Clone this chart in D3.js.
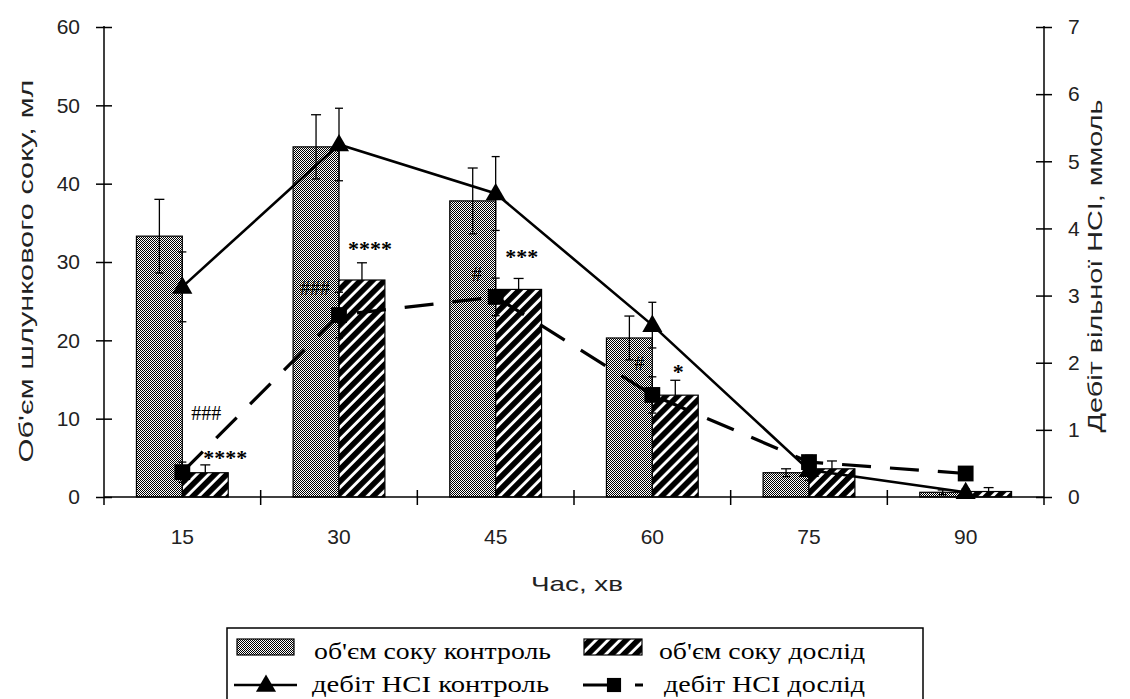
<!DOCTYPE html>
<html>
<head>
<meta charset="utf-8">
<script src="https://cdn.jsdelivr.net/npm/d3@7"></script>
<style>
  html, body { margin: 0; padding: 0; background: #fff; }
  svg { display: block; }
</style>
</head>
<body>
<div id="chart"></div>
<script>
// ---------- data ----------
const categories = ["15", "30", "45", "60", "75", "90"];
const volControl = [33.3, 44.7, 37.8, 20.3, 3.1, 0.6];
const volControlErr = [4.7, 4.1, 4.2, 2.8, 0.5, 0.3];
const volExp = [3.1, 27.7, 26.5, 13.0, 3.6, 0.7];
const volExpErr = [1.0, 2.2, 1.4, 1.9, 1.0, 0.5];
const hclControl = [3.13, 5.25, 4.52, 2.56, 0.40, 0.07];
const hclControlErr = [0.52, 0.54, 0.55, 0.34, 0.15, 0.05];
const hclExp = [0.37, 2.71, 2.98, 1.52, 0.52, 0.35];
const hclExpErr = [0.15, 0.34, 0.28, 0.27, 0.10, 0.10];
const leftTicks = [0, 10, 20, 30, 40, 50, 60];
const rightTicks = [0, 1, 2, 3, 4, 5, 6, 7];
const markLabels = ["###", "****", "****", "###", "***", "#", "#", "*"];
const markCats = ["15", "15", "30", "30", "45", "45", "60", "60"];
const markValues = [10.7, 5.6, 32.3, 26.7, 31.3, 28.5, 17.1, 16.6];
const legendLabels = ["об'єм соку контроль", "об'єм соку дослід", "дебіт НСІ контроль", "дебіт НСІ дослід"];
const xTitle = "Час, хв";
const yLeftTitle = "Об'єм шлункового соку, мл";
const yRightTitle = "Дебіт вільної НСІ, ммоль";

// ---------- layout ----------
const W = 1130, H = 699;
const L = 104, R = 1044, T = 27, B = 497;
const markDx = [24, 43, 31, -24, 26, -19, -13, 26];

const svg = d3.select("#chart").append("svg").attr("width", W).attr("height", H);
svg.append("rect").attr("width", W).attr("height", H).attr("fill", "#fff");

const defs = svg.append("defs");
// control bar pattern: dense diamond lattice
const pc = defs.append("pattern").attr("id", "pCtrl").attr("patternUnits", "userSpaceOnUse")
  .attr("width", 4).attr("height", 4);
pc.append("rect").attr("width", 4).attr("height", 4).attr("fill", "#fff");
[[0,0],[1,1],[2,2],[3,3],[1,3],[3,1],[0,2],[2,0]].forEach(([px, py]) =>
  pc.append("rect").attr("x", px).attr("y", py).attr("width", 1).attr("height", 1).attr("fill", "#000"));
// experimental bar pattern: heavy diagonal hatch
const ph = defs.append("pattern").attr("id", "pExp").attr("patternUnits", "userSpaceOnUse")
  .attr("width", 8.5).attr("height", 8.5).attr("patternTransform", "rotate(45)");
ph.append("rect").attr("width", 8.5).attr("height", 8.5).attr("fill", "#fff");
ph.append("rect").attr("width", 5.6).attr("height", 8.5).attr("fill", "#000");

const x = d3.scaleBand().domain(categories).range([L, R]).padding(0);
const yL = d3.scaleLinear().domain([0, 60]).range([B, T]);
const yR = d3.scaleLinear().domain([0, 7]).range([B, T]);
const bw = x.bandwidth() * 0.293;
const cx = c => x(c) + x.bandwidth() / 2;

const font = "'Liberation Sans', Arial, sans-serif";
const serif = "'Liberation Serif', 'Times New Roman', serif";

// ---------- bars ----------
const gBars = svg.append("g");
gBars.selectAll("rect.c").data(categories).join("rect").attr("class", "c")
  .attr("x", c => cx(c) - bw).attr("width", bw)
  .attr("y", (c, i) => yL(volControl[i])).attr("height", (c, i) => B - yL(volControl[i]))
  .attr("fill", "url(#pCtrl)").attr("stroke", "#000").attr("stroke-width", 1.2);
gBars.selectAll("rect.e").data(categories).join("rect").attr("class", "e")
  .attr("x", c => cx(c)).attr("width", bw)
  .attr("y", (c, i) => yL(volExp[i])).attr("height", (c, i) => B - yL(volExp[i]))
  .attr("fill", "url(#pExp)").attr("stroke", "#000").attr("stroke-width", 1.2);

// bar error bars
const gErr = svg.append("g").attr("stroke", "#000").attr("stroke-width", 1.3);
categories.forEach((c, i) => {
  const xc = cx(c) - bw / 2;
  const y1 = yL(volControl[i] + volControlErr[i]), y2 = yL(volControl[i] - volControlErr[i]);
  gErr.append("line").attr("x1", xc).attr("x2", xc).attr("y1", y1).attr("y2", y2);
  gErr.append("line").attr("x1", xc - 5).attr("x2", xc + 5).attr("y1", y1).attr("y2", y1);
  gErr.append("line").attr("x1", xc - 4).attr("x2", xc + 4).attr("y1", y2).attr("y2", y2);
  const xe = cx(c) + bw / 2;
  const ye = yL(volExp[i] + volExpErr[i]);
  gErr.append("line").attr("x1", xe).attr("x2", xe).attr("y1", ye).attr("y2", yL(volExp[i]));
  gErr.append("line").attr("x1", xe - 5).attr("x2", xe + 5).attr("y1", ye).attr("y2", ye);
});

// ---------- axes ----------
const axL = d3.axisLeft(yL).tickValues(leftTicks).tickFormat(d3.format("d")).tickSize(8).tickPadding(16);
const gL = svg.append("g").attr("transform", `translate(${L},0)`).call(axL);
const axR = d3.axisRight(yR).tickValues(rightTicks).tickFormat(d3.format("d")).tickSize(8).tickPadding(16);
const gR = svg.append("g").attr("transform", `translate(${R},0)`).call(axR);
[gL, gR].forEach(g => {
  g.select(".domain").remove();
  g.selectAll(".tick line").attr("x1", -8).attr("x2", 8).attr("stroke-width", 1.5);
  g.selectAll("text").attr("font-family", font).attr("font-size", 21).attr("fill", "#222");
});
svg.append("line").attr("x1", L).attr("x2", L).attr("y1", yL(60) - 1).attr("y2", B + 8)
  .attr("stroke", "#000").attr("stroke-width", 1.5);
svg.append("line").attr("x1", R).attr("x2", R).attr("y1", yR(7) - 1).attr("y2", B + 8)
  .attr("stroke", "#000").attr("stroke-width", 1.5);

const axB = d3.axisBottom(x).tickSize(0).tickPadding(32);
const gB = svg.append("g").attr("transform", `translate(0,${B})`).call(axB);
gB.select(".domain").remove();
gB.selectAll("text").attr("font-family", font).attr("font-size", 21).attr("fill", "#222");
svg.append("line").attr("x1", L).attr("x2", R).attr("y1", B).attr("y2", B)
  .attr("stroke", "#000").attr("stroke-width", 1.5);
svg.append("g").selectAll("line").data(categories.slice(1)).join("line")
  .attr("x1", c => x(c)).attr("x2", c => x(c)).attr("y1", B - 7).attr("y2", B + 8)
  .attr("stroke", "#000").attr("stroke-width", 1.5);

// ---------- lines ----------
const lineC = d3.line().x(c => cx(c)).y((c, i) => yR(hclControl[i]));
const lineE = d3.line().x(c => cx(c)).y((c, i) => yR(hclExp[i]));
svg.append("path").attr("d", lineE(categories)).attr("fill", "none").attr("stroke", "#000")
  .attr("stroke-width", 3.2).attr("stroke-dasharray", "29,19");
svg.append("path").attr("d", lineC(categories)).attr("fill", "none").attr("stroke", "#000")
  .attr("stroke-width", 2.6);

const gLErr = svg.append("g").attr("stroke", "#000").attr("stroke-width", 1.3);
categories.forEach((c, i) => {
  const xc = cx(c);
  [[hclControl[i], hclControlErr[i]], [hclExp[i], hclExpErr[i]]].forEach(([v, e]) => {
    const y1 = yR(v + e), y2 = yR(Math.max(0, v - e));
    gLErr.append("line").attr("x1", xc).attr("x2", xc).attr("y1", y1).attr("y2", y2);
    gLErr.append("line").attr("x1", xc - 4).attr("x2", xc + 4).attr("y1", y1).attr("y2", y1);
    gLErr.append("line").attr("x1", xc - 4).attr("x2", xc + 4).attr("y1", y2).attr("y2", y2);
  });
});

const tri = d3.symbol(d3.symbolTriangle, 175);
const sq = d3.symbol(d3.symbolSquare, 250);
svg.append("g").selectAll("path").data(categories).join("path")
  .attr("d", sq).attr("transform", (c, i) => `translate(${cx(c)},${yR(hclExp[i])})`).attr("fill", "#000");
svg.append("g").selectAll("path").data(categories).join("path")
  .attr("d", tri).attr("transform", (c, i) => `translate(${cx(c)},${yR(hclControl[i]) + 1})`).attr("fill", "#000");

// ---------- significance marks ----------
svg.append("g").selectAll("text").data(markLabels).join("text")
  .attr("x", (t, i) => cx(markCats[i]) + markDx[i])
  .attr("y", (t, i) => yL(markValues[i]) + (t.startsWith("*") ? 12 : 7))
  .attr("text-anchor", "middle")
  .attr("font-family", serif)
  .attr("font-weight", t => t.startsWith("*") ? "bold" : "normal")
  .attr("font-size", t => t.startsWith("*") ? 22 : 20)
  .attr("fill", "#000")
  .text(t => t);

// ---------- titles ----------
svg.append("text").attr("x", (L + R) / 2 + 3).attr("y", 591).attr("text-anchor", "middle")
  .attr("font-family", font).attr("font-size", 21).attr("fill", "#222")
  .attr("textLength", 92).attr("lengthAdjust", "spacingAndGlyphs").text(xTitle);
svg.append("text").attr("transform", "translate(25,271) rotate(-90)").attr("dy", "0.36em")
  .attr("text-anchor", "middle").attr("font-family", font).attr("font-size", 21).attr("fill", "#222")
  .attr("textLength", 383).attr("lengthAdjust", "spacingAndGlyphs").text(yLeftTitle);
svg.append("text").attr("transform", "translate(1094,266) rotate(-90)").attr("dy", "0.36em")
  .attr("text-anchor", "middle").attr("font-family", font).attr("font-size", 21).attr("fill", "#222")
  .attr("textLength", 333).attr("lengthAdjust", "spacingAndGlyphs").text(yRightTitle);

// ---------- legend ----------
const gLeg = svg.append("g");
gLeg.append("rect").attr("x", 227).attr("y", 628).attr("width", 696).attr("height", 90)
  .attr("fill", "#fff").attr("stroke", "#000").attr("stroke-width", 1.5);
gLeg.append("rect").attr("x", 237).attr("y", 639).attr("width", 57).attr("height", 16)
  .attr("fill", "url(#pCtrl)").attr("stroke", "#000").attr("stroke-width", 1.2);
gLeg.append("rect").attr("x", 584).attr("y", 639).attr("width", 58).attr("height", 16)
  .attr("fill", "url(#pExp)").attr("stroke", "#000").attr("stroke-width", 1.2);
gLeg.append("line").attr("x1", 234).attr("x2", 297).attr("y1", 685).attr("y2", 685)
  .attr("stroke", "#000").attr("stroke-width", 2.6);
gLeg.append("path").attr("d", tri).attr("transform", "translate(266,686)").attr("fill", "#000");
gLeg.append("line").attr("x1", 583).attr("x2", 612).attr("y1", 685).attr("y2", 685)
  .attr("stroke", "#000").attr("stroke-width", 3);
gLeg.append("path").attr("d", d3.symbol(d3.symbolSquare, 200)).attr("transform", "translate(614,685)").attr("fill", "#000");
gLeg.append("line").attr("x1", 635).attr("x2", 643).attr("y1", 685).attr("y2", 685)
  .attr("stroke", "#000").attr("stroke-width", 3);
const legPos = [[314, 659, 237], [659, 659, 206], [312, 692, 237], [664, 692, 201]];
gLeg.selectAll("text").data(legendLabels).join("text")
  .attr("x", (t, i) => legPos[i][0]).attr("y", (t, i) => legPos[i][1])
  .attr("textLength", (t, i) => legPos[i][2]).attr("lengthAdjust", "spacingAndGlyphs")
  .attr("font-family", serif).attr("font-size", 23).attr("fill", "#000")
  .text(t => t);
</script>
</body>
</html>
